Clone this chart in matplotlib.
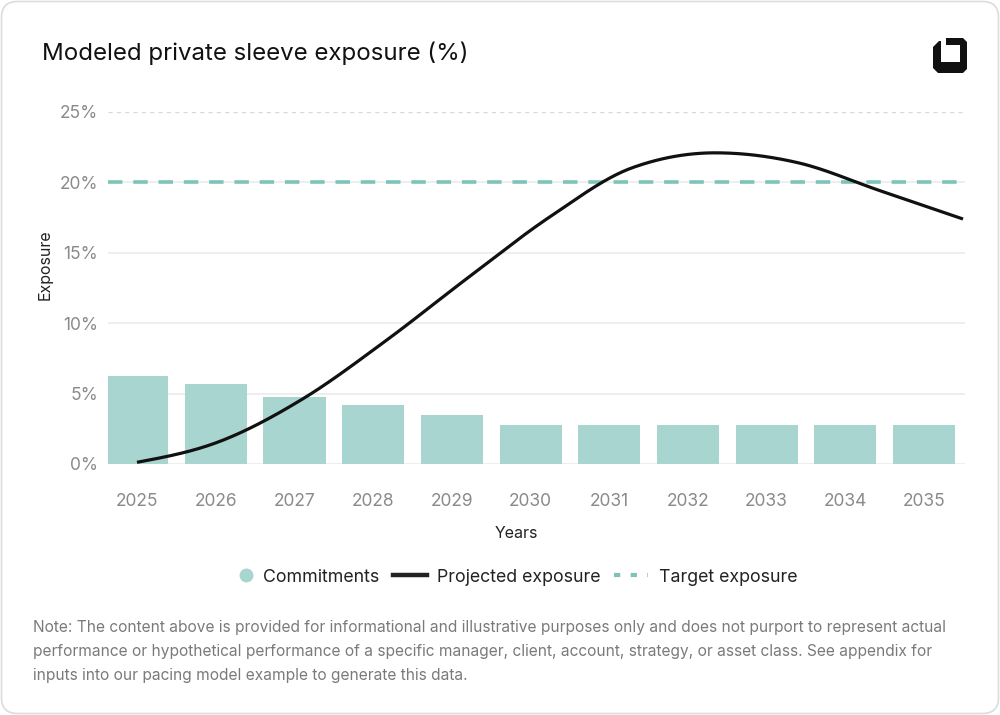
import numpy as np
import matplotlib
matplotlib.use("Agg")
import matplotlib.pyplot as plt
from matplotlib.lines import Line2D
from matplotlib.patches import FancyBboxPatch, Polygon
from matplotlib.legend_handler import HandlerLine2D

plt.rcParams['font.family'] = ['Inter', 'DejaVu Sans']

# data
years = [2025, 2026, 2027, 2028, 2029, 2030, 2031, 2032, 2033, 2034, 2035]
commitments = [6.25, 5.65, 4.75, 4.2, 3.5, 2.8, 2.8, 2.8, 2.8, 2.8, 2.8]
projected = [0.12, 1.6, 4.6, 8.7, 13.2, 17.56, 21.05, 22.1, 21.4, 19.4, 17.4]
target = 20
y_ticks = [0, 5, 10, 15, 20, 25]
note = ("Note: The content above is provided for informational and illustrative purposes only and does not purport to represent actual\n"
        "performance or hypothetical performance of a specific manager, client, account, strategy, or asset class. See appendix for\n"
        "inputs into our pacing model example to generate this data.")

bar_color = '#a8d5cf'
teal = '#7cc4b7'
grey_txt = '#8a8a8a'


def monotone_x(x, y, n=40):
    """cubic hermite with monotone tangents (like d3 curveMonotoneX)"""
    x = np.asarray(x, float)
    y = np.asarray(y, float)
    h = np.diff(x)
    s = np.diff(y) / h
    t = np.zeros_like(y)
    for i in range(1, len(y) - 1):
        p = (s[i-1]*h[i] + s[i]*h[i-1]) / (h[i-1] + h[i])
        t[i] = (np.sign(s[i-1]) + np.sign(s[i])) * min(abs(s[i-1]), abs(s[i]), 0.5*abs(p))
    t[0] = (3*s[0] - t[1]) / 2
    t[-1] = (3*s[-1] - t[-2]) / 2
    xs, ys = [], []
    for i in range(len(h)):
        u = np.linspace(0, 1, n)
        h00 = 2*u**3 - 3*u**2 + 1
        h10 = u**3 - 2*u**2 + u
        h01 = -2*u**3 + 3*u**2
        h11 = u**3 - u**2
        xs.append(x[i] + u*h[i])
        ys.append(h00*y[i] + h10*h[i]*t[i] + h01*y[i+1] + h11*h[i]*t[i+1])
    return np.concatenate(xs), np.concatenate(ys)


class MarkerRight(HandlerLine2D):
    # single marker is drawn at the middle of xdata -> squeeze xdata to the right end
    def get_xdata(self, legend, xdescent, ydescent, width, height, fontsize):
        right = -xdescent + width
        return [right - 9, right], [right - 4.5]


W, H = 1000, 715
fig = plt.figure(figsize=(W/100, H/100), dpi=100)

# card
card = FancyBboxPatch((1.5/W, 1.5/H), (W-3)/W, (H-3)/H,
                      boxstyle="round,pad=0,rounding_size=0.016",
                      transform=fig.transFigure, facecolor='white',
                      edgecolor='#dcdcdc', linewidth=1.2, mutation_aspect=W/H,
                      zorder=-5)
fig.patches.append(card)

ax_l, ax_r, ax_t, ax_b = 108, 965, 112, 464
ax = fig.add_axes([ax_l/W, 1 - ax_b/H, (ax_r-ax_l)/W, (ax_b-ax_t)/H])
ax.set_facecolor('none')

idx = np.arange(len(years))
ax.bar(idx, commitments, width=0.79, color=bar_color, zorder=2)
ax.set_xlim(-0.37, 10.52)
ax.set_ylim(0, 25)

for v in y_ticks[:-1]:
    ax.axhline(v, color='#ebebeb', linewidth=1.2, zorder=1)
ax.axhline(25, color='#d9d9d9', linewidth=1, linestyle=(0, (3, 3)), zorder=1)
ax.axhline(target, color=teal, linewidth=2.6, linestyle=(0, (4, 3)), zorder=3)

ax.set_xticks(idx)
ax.set_xticklabels([str(y) for y in years])
ax.set_yticks(y_ticks)
ax.set_yticklabels([f"{v}%" for v in y_ticks])
ax.tick_params(axis='both', length=0, colors=grey_txt, labelsize=12.5)
ax.tick_params(axis='x', pad=21)
ax.tick_params(axis='y', pad=7)
for sp in ax.spines.values():
    sp.set_visible(False)

# projected line sits on its own linear year scale (2025 -> 137px, 2035 -> 963px)
ax2 = ax.twiny()
f0 = (137 - ax_l) / (ax_r - ax_l)
f1 = (963 - ax_l) / (ax_r - ax_l)
span = 10 / (f1 - f0)
ax2.set_xlim(2025 - f0*span, 2025 - f0*span + span)
ax2.set_ylim(0, 25)
ax2.axis('off')
lx, ly = monotone_x(years, projected)
ax2.plot(lx, ly, color='#111111', linewidth=2.3, solid_capstyle='butt', zorder=4)

# texts
fig.text(42/W, 1 - 53/H, "Modeled private sleeve exposure (%)", fontsize=17.3,
         color='#111111', va='center', ha='left')
fig.text(516/W, 1 - 533/H, "Years", fontsize=11.5, color='#222222', va='center', ha='center')
fig.text(45/W, 1 - 265/H, "Exposure", fontsize=11.5, color='#222222', va='center',
         ha='center', rotation=90)
fig.text(33/W, 1 - 620/H, note, fontsize=11.15, color='#7a7a7a', va='top', ha='left',
         linespacing=1.74)

handles = [
    Line2D([], [], marker='o', linestyle='none', markersize=9, color=bar_color),
    Line2D([], [], color='#222222', linewidth=3.2),
    Line2D([], [], color=teal, linewidth=3, linestyle=(0, (1.5, 2.5))),
]
fig.legend(handles, ["Commitments", "Projected exposure", "Target exposure"],
           loc='center', bbox_to_anchor=(508/W, 1 - 577/H), ncol=3, frameon=False,
           fontsize=12.8, handlelength=1.9, handletextpad=0.6, columnspacing=0.75,
           labelcolor='#222222', handler_map={handles[0]: MarkerRight()})

# logo
pts = [(946, 38), (963, 38), (967, 42), (967, 69), (963, 73), (938, 73), (933, 68),
       (933, 47), (939, 41), (941, 41), (941, 62), (960, 62), (960, 45), (946, 45)]
logo = Polygon([(x/W, 1 - y/H) for x, y in pts], closed=True, transform=fig.transFigure,
               facecolor='#111111', edgecolor='none')
fig.patches.append(logo)

fig.savefig("out.png", dpi=100)
